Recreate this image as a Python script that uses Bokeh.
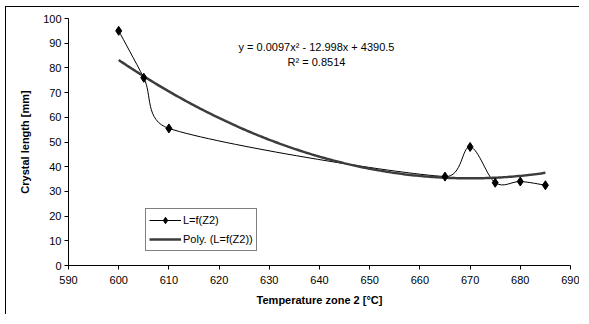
import numpy as np
from bokeh.plotting import figure
from bokeh.models import (Range1d, SingleIntervalTicker, Label, Legend, LegendItem)
from bokeh.embed import file_html
from bokeh.resources import INLINE

# ---- data ----
temperature = [600, 605, 610, 665, 670, 675, 680, 685]
crystal_len = [95.0, 76.0, 55.5, 36.0, 48.0, 33.5, 34.0, 32.5]
equation_text = "y = 0.0097x\u00b2 - 12.998x + 4390.5"
r2_text = "R\u00b2 = 0.8514"
x_label = "Temperature zone 2 [\u00b0C]"
y_label = "Crystal length [mm]"
series_name = "L=f(Z2)"
trend_name = "Poly. (L=f(Z2))"

X_MIN, X_MAX, Y_MIN, Y_MAX = 590, 690, 0, 100
W, H = 574, 308
ML, MR, MT, MB = 62, 10, 11, 50
FONT = "Liberation Sans"

p = figure(width=W, height=H, output_backend="svg", toolbar_location=None,
           x_range=Range1d(X_MIN, X_MAX), y_range=Range1d(Y_MIN, Y_MAX),
           min_border_left=ML, min_border_right=MR, min_border_top=MT,
           min_border_bottom=MB)
p.outline_line_color = None
p.xgrid.visible = False
p.ygrid.visible = False
p.background_fill_color = "white"
p.border_fill_color = "white"

for ax in (p.xaxis[0], p.yaxis[0]):
    ax.axis_line_color = "black"
    ax.axis_line_width = 1
    ax.major_tick_line_color = "black"
    ax.major_tick_out = 4
    ax.major_tick_in = 0
    ax.minor_tick_line_color = None
    ax.major_label_text_font = FONT
    ax.major_label_text_font_size = "11px"
    ax.major_label_text_color = "black"
    ax.axis_label_text_font = FONT
    ax.axis_label_text_font_size = "11px"
    ax.axis_label_text_font_style = "bold"
    ax.axis_label_text_color = "black"
p.xaxis[0].ticker = SingleIntervalTicker(interval=10)
p.yaxis[0].ticker = SingleIntervalTicker(interval=10)
p.xaxis[0].axis_label = x_label
p.yaxis[0].axis_label = y_label
p.xaxis[0].major_label_standoff = 6
p.yaxis[0].major_label_standoff = 3
p.xaxis[0].axis_label_standoff = 7
p.yaxis[0].axis_label_standoff = 9

# ---- smoothed line (Bezier through the points, Excel-like) ----
fw = W - ML - MR
fh = H - MT - MB
sx = fw / (X_MAX - X_MIN)
sy = fh / (Y_MAX - Y_MIN)
xs = np.array(temperature, float)
ys = np.array(crystal_len, float)
n = len(xs)
x0s, y0s, x1s, y1s, cx0, cy0, cx1, cy1 = [], [], [], [], [], [], [], []
CAP = 0.45
for i in range(n - 1):
    pa = np.array([xs[max(i - 1, 0)], ys[max(i - 1, 0)]])
    p0 = np.array([xs[i], ys[i]])
    p1 = np.array([xs[i + 1], ys[i + 1]])
    pb = np.array([xs[min(i + 2, n - 1)], ys[min(i + 2, n - 1)]])
    seg = np.hypot((p1[0] - p0[0]) * sx, (p1[1] - p0[1]) * sy)
    v0 = (p1 - pa) / 6.0
    v1 = (pb - p0) / 6.0
    for v in (v0, v1):
        L = np.hypot(v[0] * sx, v[1] * sy)
        if L > CAP * seg:
            v *= CAP * seg / L
    c0 = p0 + v0
    c1 = p1 - v1
    x0s.append(p0[0]); y0s.append(p0[1]); x1s.append(p1[0]); y1s.append(p1[1])
    cx0.append(c0[0]); cy0.append(c0[1]); cx1.append(c1[0]); cy1.append(c1[1])

p.bezier(x0=x0s, y0=y0s, x1=x1s, y1=y1s, cx0=cx0, cy0=cy0, cx1=cx1, cy1=cy1,
         line_color="black", line_width=1)

# ---- polynomial trendline (order 2, fitted to the data) ----
coef = np.polyfit(xs, ys, 2)
tx = np.linspace(xs.min(), xs.max(), 200)
ty = np.polyval(coef, tx)
trend = p.line(tx, ty, line_color="#3c3c3c", line_width=2.5)

pts = p.scatter(temperature, crystal_len, marker="diamond", size=9,
                fill_color="black", line_color="black")

leg_line = p.line([np.nan], [np.nan], line_color="black", line_width=1)

legend = Legend(items=[LegendItem(label=series_name, renderers=[leg_line, pts]),
                       LegendItem(label=trend_name, renderers=[trend])],
                location=(77, 14), orientation="vertical",
                border_line_color="black", border_line_width=1,
                background_fill_alpha=1, label_text_font=FONT,
                label_text_font_size="11px", label_text_color="black",
                glyph_width=32, glyph_height=16, label_standoff=2,
                padding=3, spacing=3, margin=0, label_height=16)
p.add_layout(legend, "center")

p.add_layout(Label(x=248, y=219, x_units="screen", y_units="screen", text=equation_text,
                   text_align="center", text_baseline="middle", text_font=FONT,
                   text_font_size="11px", text_color="black"))
p.add_layout(Label(x=248, y=204, x_units="screen", y_units="screen", text=r2_text,
                   text_align="center", text_baseline="middle", text_font=FONT,
                   text_font_size="11px", text_color="black"))

# outer chart border (left and top edges visible in the reference)
p.styles = {"margin-left": "5px", "margin-top": "6px",
            "border-left": "1px solid black", "border-top": "1px solid black"}

open("out.html", "w").write(file_html(p, INLINE))
